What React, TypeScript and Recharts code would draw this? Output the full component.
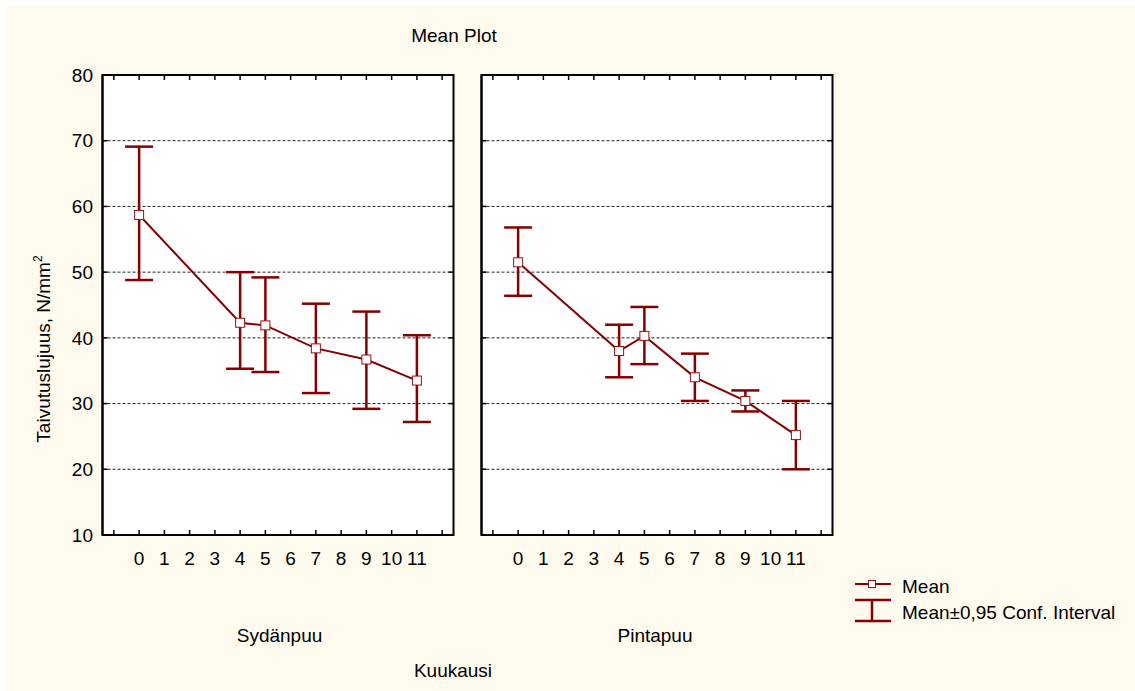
import React from "react";
import { LineChart, Line, XAxis, YAxis, CartesianGrid, ErrorBar, Legend, ReferenceArea } from "recharts";

// Kuukausi (x) ja keskiarvot + 95 % luottamusvälit, luettu kuvasta
const months = [0, 4, 5, 7, 9, 11];
const sydMean = [58.7, 42.3, 41.9, 38.4, 36.7, 33.5];
const sydLow = [48.8, 35.3, 34.8, 31.6, 29.2, 27.2];
const sydHigh = [69.1, 50.0, 49.2, 45.2, 44.0, 40.4];
const pintMean = [51.5, 38.0, 40.3, 34.0, 30.4, 25.2];
const pintLow = [46.4, 34.0, 36.0, 30.4, 28.8, 20.0];
const pintHigh = [56.8, 42.0, 44.7, 37.6, 32.0, 30.4];

const xTicks = [-1, 0, 1, 2, 3, 4, 5, 6, 7, 8, 9, 10, 11, 12];
const yTicks = [10, 20, 30, 40, 50, 60, 70, 80];
const legendLabels = ["Mean", "Mean\u00b10,95 Conf. Interval"];

const X_DOMAIN: [number, number] = [-1.45, 12.45];
const Y_DOMAIN: [number, number] = [10, 80];
const RED = "#850000";
const FONT = "'Liberation Sans', Arial, sans-serif";
const TICK_LEN = 5;

const build = (mean: number[], low: number[], high: number[]) =>
  months.map((m, i) => ({
    m,
    mean: mean[i],
    err: [+(mean[i] - low[i]).toFixed(2), +(high[i] - mean[i]).toFixed(2)],
  }));

const sydData = build(sydMean, sydLow, sydHigh);
const pintData = build(pintMean, pintLow, pintHigh);

const SquareDot = (p: any) => (
  <rect
    key={`d-${p.index}`}
    x={p.cx - 4.5}
    y={p.cy - 4.5}
    width={9}
    height={9}
    fill="#fff"
    stroke="#9a1010"
    strokeWidth={1}
  />
);

const axisLine = { stroke: "#000", strokeWidth: 2 };
const tickLine = { stroke: "#000", strokeWidth: 1.5 };

// bottom label + mirrored inward tick on the top border (Statistica style)
const makeXTick = (plotTop: number) => (p: any) => {
  const v = p.payload.value;
  return (
    <g>
      <line x1={p.x} x2={p.x} y1={plotTop} y2={plotTop + TICK_LEN} stroke="#000" strokeWidth={1.5} />
      {v >= 0 && v <= 11 && (
        <text x={p.x} y={p.y} dy="0.71em" textAnchor="middle" fontSize={19} fill="#000">
          {v}
        </text>
      )}
    </g>
  );
};

// left label (optional) + inward tick on the right border
const makeYTick = (plotRight: number, showLabel: boolean) => (p: any) => (
  <g>
    <line x1={plotRight - TICK_LEN} x2={plotRight} y1={p.y} y2={p.y} stroke="#000" strokeWidth={1.5} />
    {showLabel && (
      <text x={p.x} y={p.y} dy="0.355em" textAnchor="end" fontSize={19} fill="#000">
        {p.payload.value}
      </text>
    )}
  </g>
);

function LegendBox() {
  return (
    <svg width={280} height={60} style={{ fontFamily: FONT, overflow: "visible" }}>
      <line x1={5} y1={14} x2={41} y2={14} stroke={RED} strokeWidth={2} />
      <rect x={18.5} y={10.5} width={7} height={7} fill="#fff" stroke="#9a1010" strokeWidth={1} />
      <text x={52} y={22.5} fontSize={19} fill="#000">{legendLabels[0]}</text>
      <line x1={22} y1={30} x2={22} y2={51} stroke={RED} strokeWidth={2.5} />
      <line x1={5} y1={30} x2={41} y2={30} stroke={RED} strokeWidth={2.5} />
      <line x1={5} y1={51} x2={41} y2={51} stroke={RED} strokeWidth={2.5} />
      <text x={52} y={49} fontSize={19} fill="#000">{legendLabels[1]}</text>
    </svg>
  );
}

function Panel({ data, width, margin, yWidth, showY, withLegend }: any) {
  const plotTop = margin.top;
  const plotRight = width - margin.right;
  return (
    <LineChart width={width} height={691} data={data} margin={margin}>
      <CartesianGrid horizontal vertical={false} stroke="#222" strokeDasharray="3 2" />
      <ReferenceArea
        x1={X_DOMAIN[0]}
        x2={X_DOMAIN[1]}
        y1={Y_DOMAIN[0]}
        y2={Y_DOMAIN[1]}
        fill="none"
        fillOpacity={0}
        stroke="#000"
        strokeWidth={2}
        ifOverflow="visible"
      />
      <XAxis
        dataKey="m"
        type="number"
        domain={X_DOMAIN}
        ticks={xTicks}
        interval={0}
        height={40}
        axisLine={axisLine}
        tickLine={tickLine}
        tickSize={-TICK_LEN}
        tickMargin={22}
        tick={makeXTick(plotTop)}
      />
      <YAxis
        type="number"
        domain={Y_DOMAIN}
        ticks={yTicks}
        interval={0}
        width={yWidth}
        axisLine={axisLine}
        tickLine={tickLine}
        tickSize={-TICK_LEN}
        tickMargin={14.5}
        tick={makeYTick(plotRight, showY)}
      />
      <Line
        dataKey="mean"
        stroke={RED}
        strokeWidth={2}
        dot={SquareDot}
        activeDot={false}
        isAnimationActive={false}
      >
        <ErrorBar dataKey="err" direction="y" width={14} stroke={RED} strokeWidth={2.5} isAnimationActive={false} />
      </Line>
      {withLegend && (
        <Legend
          layout="vertical"
          align="center"
          verticalAlign="middle"
          wrapperStyle={{ left: 380, top: 570, width: 280 }}
          content={() => <LegendBox />}
        />
      )}
    </LineChart>
  );
}

export default function App() {
  return (
    <div
      style={{
        position: "absolute",
        left: 0,
        top: 0,
        width: 1135,
        height: 691,
        background: "#fff",
        fontFamily: FONT,
        overflow: "hidden",
      }}
    >
      <div style={{ position: "absolute", left: 7, top: 5, width: 1128, height: 686, background: "#fefaee" }} />
      <div style={{ position: "absolute", left: 102.5, top: 75, width: 351, height: 460, background: "#fff" }} />
      <div style={{ position: "absolute", left: 481.5, top: 75, width: 351, height: 460, background: "#fff" }} />
      <div style={{ position: "absolute", left: 0, top: 0 }}>
        <Panel
          data={sydData}
          width={470}
          margin={{ top: 75, right: 16.5, bottom: 116, left: 42.5 }}
          yWidth={60}
          showY
        />
      </div>
      <div style={{ position: "absolute", left: 470, top: 0 }}>
        <Panel
          data={pintData}
          width={665}
          margin={{ top: 75, right: 302.5, bottom: 116, left: 10.5 }}
          yWidth={1}
          showY={false}
          withLegend
        />
      </div>
      <svg
        width={1135}
        height={691}
        style={{ position: "absolute", left: 0, top: 0, pointerEvents: "none", fontFamily: FONT }}
      >
        <text x={454} y={41.5} fontSize={19} textAnchor="middle" fill="#000">Mean Plot</text>
        <text x={279.5} y={642} fontSize={19} textAnchor="middle" fill="#000">Sydänpuu</text>
        <text x={655} y={642} fontSize={19} textAnchor="middle" fill="#000">Pintapuu</text>
        <text x={453} y={677} fontSize={19} textAnchor="middle" fill="#000">Kuukausi</text>
        <text
          transform="translate(50,349) rotate(-90)"
          fontSize={19}
          textAnchor="middle"
          fill="#000"
        >
          Taivutuslujuus, N/mm<tspan dy={-8} fontSize={12}>2</tspan>
        </text>
      </svg>
    </div>
  );
}
